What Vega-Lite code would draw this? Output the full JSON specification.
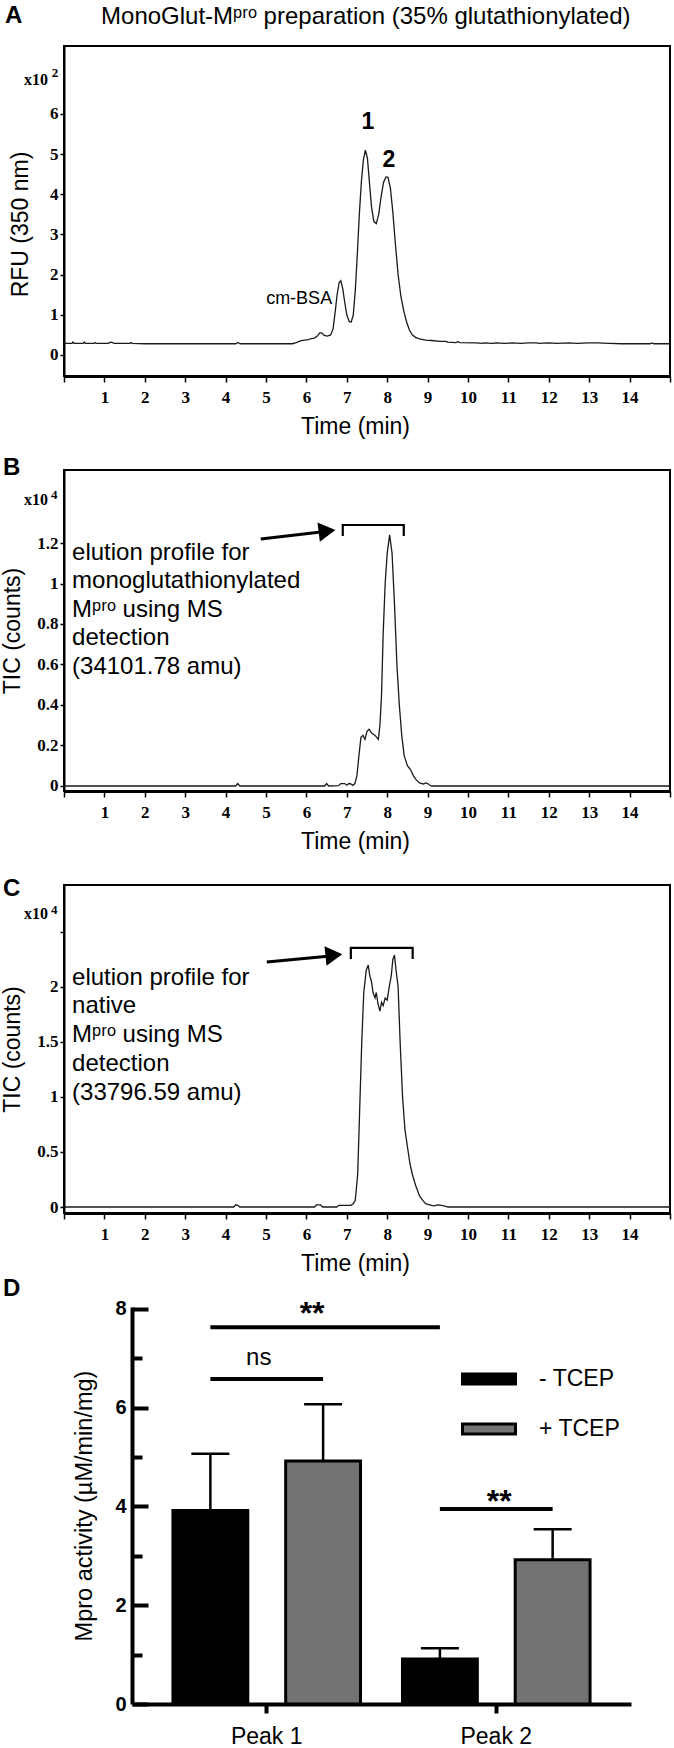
{
  "$schema": "https://vega.github.io/schema/vega-lite/v6.json",
  "background": "white",
  "padding": {"left": 0, "top": 2, "right": 0, "bottom": 0},
  "bounds": "flush",
  "spacing": 94,
  "resolve": {"legend": {"color": "independent"}},
  "config": {
    "font": "Liberation Sans",
    "view": {"stroke": "black", "strokeWidth": 2},
    "axis": {"labelFont": "Liberation Sans Narrow", "titleFont": "Liberation Sans", "labelColor": "black", "titleColor": "black", "domainColor": "black", "tickColor": "black", "titleFontWeight": "normal", "grid": false},
    "text": {"font": "Liberation Sans", "fill": "black"}
  },
  "vconcat": [
    {
      "width": 606, "height": 330,
      "layer": [
        {
          "data": {"values": [
            {"t":0,"v":0.29},{"t":0.2,"v":0.29},{"t":0.22,"v":0.32},{"t":0.25,"v":0.29},{"t":0.48,"v":0.29},{"t":0.5,"v":0.32},{"t":0.53,"v":0.29},{"t":0.75,"v":0.29},{"t":0.77,"v":0.31},{"t":0.8,"v":0.29},{"t":1.1,"v":0.29},{"t":1.15,"v":0.32},{"t":1.2,"v":0.31},{"t":1.24,"v":0.29},{"t":1.64,"v":0.29},{"t":1.66,"v":0.31},{"t":1.7,"v":0.29},{"t":2.0,"v":0.28},{"t":3.0,"v":0.28},{"t":4.0,"v":0.28},{"t":4.25,"v":0.28},{"t":4.3,"v":0.31},{"t":4.36,"v":0.28},{"t":5.0,"v":0.28},{"t":5.5,"v":0.28},{"t":5.65,"v":0.28},{"t":5.75,"v":0.31},{"t":5.85,"v":0.35},{"t":5.95,"v":0.37},{"t":6.05,"v":0.38},{"t":6.12,"v":0.41},{"t":6.2,"v":0.42},{"t":6.27,"v":0.47},{"t":6.33,"v":0.55},{"t":6.38,"v":0.55},{"t":6.44,"v":0.49},{"t":6.52,"v":0.47},{"t":6.6,"v":0.5},{"t":6.66,"v":0.65},{"t":6.71,"v":1.05},{"t":6.76,"v":1.5},{"t":6.81,"v":1.8},{"t":6.85,"v":1.85},{"t":6.9,"v":1.65},{"t":6.95,"v":1.3},{"t":7.0,"v":1.0},{"t":7.06,"v":0.83},{"t":7.11,"v":0.82},{"t":7.16,"v":1.0},{"t":7.21,"v":1.6},{"t":7.26,"v":2.5},{"t":7.31,"v":3.5},{"t":7.36,"v":4.3},{"t":7.41,"v":4.85},{"t":7.46,"v":5.1},{"t":7.51,"v":4.9},{"t":7.56,"v":4.3},{"t":7.61,"v":3.7},{"t":7.67,"v":3.32},{"t":7.73,"v":3.27},{"t":7.79,"v":3.5},{"t":7.85,"v":3.95},{"t":7.91,"v":4.3},{"t":7.97,"v":4.43},{"t":8.02,"v":4.42},{"t":8.08,"v":4.15},{"t":8.14,"v":3.55},{"t":8.2,"v":2.8},{"t":8.27,"v":2.0},{"t":8.34,"v":1.45},{"t":8.41,"v":1.1},{"t":8.48,"v":0.82},{"t":8.55,"v":0.62},{"t":8.62,"v":0.5},{"t":8.7,"v":0.44},{"t":8.8,"v":0.4},{"t":8.95,"v":0.37},{"t":9.1,"v":0.36},{"t":9.3,"v":0.34},{"t":9.45,"v":0.34},{"t":9.5,"v":0.32},{"t":9.7,"v":0.31},{"t":9.75,"v":0.33},{"t":9.8,"v":0.31},{"t":10.2,"v":0.3},{"t":10.35,"v":0.29},{"t":10.4,"v":0.3},{"t":10.6,"v":0.29},{"t":10.7,"v":0.3},{"t":10.9,"v":0.29},{"t":11.1,"v":0.3},{"t":11.3,"v":0.29},{"t":11.5,"v":0.3},{"t":11.7,"v":0.3},{"t":11.75,"v":0.29},{"t":12.0,"v":0.3},{"t":12.2,"v":0.29},{"t":12.5,"v":0.3},{"t":12.7,"v":0.29},{"t":13.0,"v":0.3},{"t":13.2,"v":0.3},{"t":13.5,"v":0.29},{"t":13.8,"v":0.28},{"t":14.2,"v":0.28},{"t":14.5,"v":0.28},{"t":14.55,"v":0.3},{"t":14.6,"v":0.28},{"t":15,"v":0.28}
          ]},
          "mark": {"type": "line", "color": "#1a1a1a", "strokeWidth": 1.3},
          "encoding": {
            "x": {"field": "t", "type": "quantitative", "scale": {"domain": [0, 15], "nice": false, "zero": false},
              "axis": {"title": "Time (min)", "values": [0,1,2,3,4,5,6,7,8,9,10,11,12,13,14,15], "labelExpr": "datum.value == 0 || datum.value == 15 ? '' : datum.label", "tickSize": 6, "tickWidth": 1.5, "domainWidth": 3, "labelFontWeight": "bold", "labelFontSize": 17, "labelPadding": 7, "labelFlush": false, "labelOverlap": false, "titleFontSize": 23, "titlePadding": 10, "titleX": 291}},
            "y": {"field": "v", "type": "quantitative", "scale": {"domain": [-0.523, 7.69], "nice": false, "zero": false},
              "axis": {"title": "RFU (350 nm)", "values": [0,1,2,3,4,5,6], "tickSize": 4, "tickWidth": 1.5, "domainWidth": 2, "labelFontWeight": "bold", "labelFontSize": 17, "labelPadding": 2, "titleFontSize": 23, "titlePadding": 17, "titleY": 178}}
          }
        },
        {"data": {"values": [{}]}, "mark": {"type": "text", "text": "1", "fontSize": 23, "fontWeight": "bold", "baseline": "middle"}, "encoding": {"x": {"datum": 7.52}, "y": {"datum": 5.8}}},
        {"data": {"values": [{}]}, "mark": {"type": "text", "text": "2", "fontSize": 23, "fontWeight": "bold", "baseline": "middle"}, "encoding": {"x": {"datum": 8.04}, "y": {"datum": 4.85}}},
        {"data": {"values": [{}]}, "mark": {"type": "text", "text": "cm-BSA", "fontSize": 18, "baseline": "middle"}, "encoding": {"x": {"datum": 5.82}, "y": {"datum": 1.39}}},
        {"data": {"values": [{}]}, "mark": {"type": "text", "text": "x10", "font": "Liberation Sans Narrow", "fontWeight": "bold", "fontSize": 16, "baseline": "middle"}, "encoding": {"x": {"datum": -0.69}, "y": {"datum": 6.846}}},
        {"data": {"values": [{}]}, "mark": {"type": "text", "text": "2", "font": "Liberation Sans Narrow", "fontWeight": "bold", "fontSize": 13, "baseline": "middle"}, "encoding": {"x": {"datum": -0.22}, "y": {"datum": 7.02}}},
        {"data": {"values": [{}]}, "mark": {"type": "text", "text": "A", "fontSize": 24, "fontWeight": "bold", "align": "left", "baseline": "middle"}, "encoding": {"x": {"datum": -1.46}, "y": {"datum": 8.44}}},
        {"data": {"values": [{}]}, "mark": {"type": "text", "text": "MonoGlut-Mᵖʳᵒ  preparation (35% glutathionylated)", "fontSize": 24, "baseline": "middle"}, "encoding": {"x": {"datum": 7.47}, "y": {"datum": 8.41}}}
      ]
    },
    {
      "width": 606, "height": 321,
      "layer": [
        {
          "data": {"values": [
            {"t":0,"v":0},{"t":4.25,"v":0},{"t":4.3,"v":0.012},{"t":4.35,"v":0},{"t":6.45,"v":0},{"t":6.5,"v":0.012},{"t":6.55,"v":0},{"t":6.8,"v":0.002},{"t":6.85,"v":0.012},{"t":6.95,"v":0.012},{"t":7.0,"v":0.004},{"t":7.05,"v":0.012},{"t":7.1,"v":0.01},{"t":7.15,"v":0.003},{"t":7.2,"v":0.012},{"t":7.25,"v":0.05},{"t":7.3,"v":0.15},{"t":7.35,"v":0.24},{"t":7.4,"v":0.25},{"t":7.45,"v":0.23},{"t":7.5,"v":0.27},{"t":7.55,"v":0.28},{"t":7.62,"v":0.26},{"t":7.7,"v":0.25},{"t":7.78,"v":0.23},{"t":7.82,"v":0.3},{"t":7.86,"v":0.45},{"t":7.9,"v":0.75},{"t":7.95,"v":1.0},{"t":8.0,"v":1.15},{"t":8.06,"v":1.24},{"t":8.12,"v":1.15},{"t":8.18,"v":0.9},{"t":8.24,"v":0.6},{"t":8.3,"v":0.4},{"t":8.36,"v":0.25},{"t":8.42,"v":0.15},{"t":8.5,"v":0.1},{"t":8.58,"v":0.08},{"t":8.65,"v":0.05},{"t":8.72,"v":0.03},{"t":8.8,"v":0.015},{"t":8.9,"v":0.01},{"t":8.95,"v":0.015},{"t":9.0,"v":0.012},{"t":9.05,"v":0.005},{"t":9.1,"v":0},{"t":15,"v":0}
          ]},
          "mark": {"type": "line", "color": "#1a1a1a", "strokeWidth": 1.3},
          "encoding": {
            "x": {"field": "t", "type": "quantitative", "scale": {"domain": [0, 15], "nice": false, "zero": false},
              "axis": {"title": "Time (min)", "values": [0,1,2,3,4,5,6,7,8,9,10,11,12,13,14,15], "labelExpr": "datum.value == 0 || datum.value == 15 ? '' : datum.label", "tickSize": 6, "tickWidth": 1.5, "domainWidth": 3, "labelFontWeight": "bold", "labelFontSize": 17, "labelPadding": 7, "labelFlush": false, "labelOverlap": false, "titleFontSize": 23, "titlePadding": 10, "titleX": 291}},
            "y": {"field": "v", "type": "quantitative", "scale": {"domain": [-0.0247, 1.5605], "nice": false, "zero": false},
              "axis": {"title": "TIC (counts)", "values": [0,0.2,0.4,0.6,0.8,1,1.2], "format": "~g", "tickSize": 4, "tickWidth": 1.5, "domainWidth": 2, "labelFontWeight": "bold", "labelFontSize": 17, "labelPadding": 2, "titleFontSize": 23, "titlePadding": 12}}
          }
        },
        {
          "data": {"values": [{"t":6.9,"v":1.235},{"t":6.9,"v":1.289},{"t":8.41,"v":1.289},{"t":8.41,"v":1.235}]},
          "mark": {"type": "line", "color": "black", "strokeWidth": 2.2},
          "encoding": {"x": {"field": "t", "type": "quantitative"}, "y": {"field": "v", "type": "quantitative"}, "order": {"value": 0}}
        },
        {
          "data": {"values": [{"t":4.87,"v":1.22},{"t":6.36,"v":1.254}]},
          "mark": {"type": "line", "color": "black", "strokeWidth": 3},
          "encoding": {"x": {"field": "t", "type": "quantitative"}, "y": {"field": "v", "type": "quantitative"}}
        },
        {"data": {"values": [{}]}, "mark": {"type": "point", "shape": "triangle-right", "filled": true, "size": 380, "color": "black", "opacity": 1, "angle": -7}, "encoding": {"x": {"datum": 6.51}, "y": {"datum": 1.259}}},
        {"data": {"values": [{}]}, "mark": {"type": "text", "text": ["elution profile for", "monoglutathionylated", "Mᵖʳᵒ using MS", "detection", "(34101.78 amu)"], "align": "left", "baseline": "alphabetic", "fontSize": 24, "lineHeight": 28.5}, "encoding": {"x": {"datum": 0.2}, "y": {"datum": 1.118}}},
        {"data": {"values": [{}]}, "mark": {"type": "text", "text": "x10", "font": "Liberation Sans Narrow", "fontWeight": "bold", "fontSize": 16, "baseline": "middle"}, "encoding": {"x": {"datum": -0.69}, "y": {"datum": 1.41}}},
        {"data": {"values": [{}]}, "mark": {"type": "text", "text": "4", "font": "Liberation Sans Narrow", "fontWeight": "bold", "fontSize": 13, "baseline": "middle"}, "encoding": {"x": {"datum": -0.24}, "y": {"datum": 1.437}}},
        {"data": {"values": [{}]}, "mark": {"type": "text", "text": "B", "fontSize": 24, "fontWeight": "bold", "align": "left", "baseline": "middle"}, "encoding": {"x": {"datum": -1.51}, "y": {"datum": 1.57}}}
      ]
    },
    {
      "width": 606, "height": 328,
      "layer": [
        {
          "data": {"values": [
            {"t":0,"v":0},{"t":4.2,"v":0},{"t":4.25,"v":0.02},{"t":4.3,"v":0.015},{"t":4.35,"v":0},{"t":6.2,"v":0},{"t":6.25,"v":0.02},{"t":6.35,"v":0.02},{"t":6.4,"v":0},{"t":6.75,"v":0},{"t":6.8,"v":0.015},{"t":7.1,"v":0.015},{"t":7.16,"v":0.03},{"t":7.21,"v":0.06},{"t":7.27,"v":0.3},{"t":7.32,"v":0.9},{"t":7.37,"v":1.5},{"t":7.42,"v":1.95},{"t":7.48,"v":2.15},{"t":7.53,"v":2.2},{"t":7.57,"v":2.1},{"t":7.61,"v":2.05},{"t":7.65,"v":1.95},{"t":7.7,"v":1.9},{"t":7.73,"v":1.95},{"t":7.77,"v":1.85},{"t":7.82,"v":1.78},{"t":7.86,"v":1.86},{"t":7.9,"v":1.83},{"t":7.95,"v":1.9},{"t":8.0,"v":1.88},{"t":8.05,"v":2.0},{"t":8.1,"v":2.1},{"t":8.14,"v":2.25},{"t":8.18,"v":2.29},{"t":8.22,"v":2.15},{"t":8.27,"v":2.0},{"t":8.32,"v":1.5},{"t":8.38,"v":1.0},{"t":8.44,"v":0.7},{"t":8.5,"v":0.55},{"t":8.56,"v":0.4},{"t":8.62,"v":0.3},{"t":8.7,"v":0.2},{"t":8.8,"v":0.1},{"t":8.88,"v":0.06},{"t":8.95,"v":0.03},{"t":9.05,"v":0.02},{"t":9.15,"v":0.01},{"t":9.25,"v":0.02},{"t":9.35,"v":0.015},{"t":9.45,"v":0.005},{"t":9.5,"v":0},{"t":15,"v":0}
          ]},
          "mark": {"type": "line", "color": "#1a1a1a", "strokeWidth": 1.3},
          "encoding": {
            "x": {"field": "t", "type": "quantitative", "scale": {"domain": [0, 15], "nice": false, "zero": false},
              "axis": {"title": "Time (min)", "values": [0,1,2,3,4,5,6,7,8,9,10,11,12,13,14,15], "labelExpr": "datum.value == 0 || datum.value == 15 ? '' : datum.label", "tickSize": 6, "tickWidth": 1.5, "domainWidth": 3, "labelFontWeight": "bold", "labelFontSize": 17, "labelPadding": 7, "labelFlush": false, "labelOverlap": false, "titleFontSize": 23, "titlePadding": 10, "titleX": 291}},
            "y": {"field": "v", "type": "quantitative", "scale": {"domain": [-0.0545, 2.927], "nice": false, "zero": false},
              "axis": {"title": "TIC (counts)", "values": [0,0.5,1,1.5,2,2.5], "format": "~g", "labelExpr": "datum.value == 2.5 ? '' : datum.label", "tickSize": 4, "tickWidth": 1.5, "domainWidth": 2, "labelFontWeight": "bold", "labelFontSize": 17, "labelPadding": 2, "titleFontSize": 23, "titlePadding": 12}}
          }
        },
        {
          "data": {"values": [{"t":7.1,"v":2.255},{"t":7.1,"v":2.355},{"t":8.63,"v":2.355},{"t":8.63,"v":2.255}]},
          "mark": {"type": "line", "color": "black", "strokeWidth": 2.2},
          "encoding": {"x": {"field": "t", "type": "quantitative"}, "y": {"field": "v", "type": "quantitative"}, "order": {"value": 0}}
        },
        {
          "data": {"values": [{"t":5.02,"v":2.227},{"t":6.53,"v":2.28}]},
          "mark": {"type": "line", "color": "black", "strokeWidth": 3},
          "encoding": {"x": {"field": "t", "type": "quantitative"}, "y": {"field": "v", "type": "quantitative"}}
        },
        {"data": {"values": [{}]}, "mark": {"type": "point", "shape": "triangle-right", "filled": true, "size": 380, "color": "black", "opacity": 1, "angle": -6}, "encoding": {"x": {"datum": 6.68}, "y": {"datum": 2.29}}},
        {"data": {"values": [{}]}, "mark": {"type": "text", "text": ["elution profile for", "native", "Mᵖʳᵒ using MS", "detection", "(33796.59 amu)"], "align": "left", "baseline": "alphabetic", "fontSize": 24, "lineHeight": 28.7}, "encoding": {"x": {"datum": 0.2}, "y": {"datum": 2.02}}},
        {"data": {"values": [{}]}, "mark": {"type": "text", "text": "x10", "font": "Liberation Sans Narrow", "fontWeight": "bold", "fontSize": 16, "baseline": "middle"}, "encoding": {"x": {"datum": -0.69}, "y": {"datum": 2.664}}},
        {"data": {"values": [{}]}, "mark": {"type": "text", "text": "4", "font": "Liberation Sans Narrow", "fontWeight": "bold", "fontSize": 13, "baseline": "middle"}, "encoding": {"x": {"datum": -0.24}, "y": {"datum": 2.7}}},
        {"data": {"values": [{}]}, "mark": {"type": "text", "text": "C", "fontSize": 24, "fontWeight": "bold", "align": "left", "baseline": "middle"}, "encoding": {"x": {"datum": -1.51}, "y": {"datum": 2.891}}}
      ]
    },
    {
      "width": 606, "height": 397,
      "view": {"stroke": null},
      "title": {"text": "D", "anchor": "start", "frame": "group", "dx": -61, "fontSize": 24, "fontWeight": "bold", "font": "Liberation Sans", "color": "black", "offset": -3},
      "layer": [
        {
          "data": {"values": [
            {"peak": "Peak 1", "cond": "- TCEP", "mean": 3.92, "err": 5.07},
            {"peak": "Peak 1", "cond": "+ TCEP", "mean": 4.92, "err": 6.07},
            {"peak": "Peak 2", "cond": "- TCEP", "mean": 0.91, "err": 1.13},
            {"peak": "Peak 2", "cond": "+ TCEP", "mean": 2.92, "err": 3.54}
          ]},
          "layer": [
            {
              "mark": {"type": "bar", "stroke": "black", "strokeWidth": 3},
              "encoding": {
                "x": {"field": "peak", "type": "nominal", "sort": ["Peak 1", "Peak 2"], "scale": {"range": [68, 567], "paddingInner": 0, "paddingOuter": 0.087},
                  "axis": {"title": null, "labelAngle": 0, "labelFont": "Liberation Sans", "labelFontSize": 23, "labelPadding": 12, "domainWidth": 4, "tickSize": 9, "tickWidth": 4}},
                "xOffset": {"field": "cond", "type": "nominal", "sort": ["- TCEP", "+ TCEP"], "scale": {"paddingInner": 0.336, "paddingOuter": 0.186}},
                "y": {"field": "mean", "type": "quantitative", "scale": {"domain": [0, 8.04], "nice": false},
                  "axis": {"title": "Mpro activity (µM/min/mg)", "offset": -68, "values": [0,1,2,3,4,5,6,7,8], "labelExpr": "datum.value % 2 == 0 ? datum.label : ''", "tickSize": {"condition": {"test": "datum.value % 2 == 1", "value": -10}, "value": -16}, "tickWidth": 4, "domainWidth": 4, "labelFont": "Liberation Sans", "labelFontWeight": "bold", "labelFontSize": 20, "labelPadding": 22, "titleFontSize": 23.5, "titlePadding": 18}},
                "color": {"field": "cond", "type": "nominal", "sort": ["- TCEP", "+ TCEP"], "scale": {"domain": ["- TCEP", "+ TCEP"], "range": ["#000000", "#737373"]},
                  "legend": {"orient": "none", "legendX": 397, "legendY": 44, "title": null, "symbolType": "M-1,-0.19H1V0.19H-1Z", "symbolSize": 2809, "symbolStrokeColor": "black", "symbolStrokeWidth": 3, "symbolOpacity": 1, "labelFont": "Liberation Sans", "labelFontSize": 23, "labelColor": "black", "labelOffset": 22, "rowPadding": 10, "labelLimit": 200}}
              }
            },
            {
              "mark": {"type": "rule", "color": "black", "strokeWidth": 2.5},
              "encoding": {
                "x": {"field": "peak", "type": "nominal", "sort": ["Peak 1", "Peak 2"]},
                "xOffset": {"field": "cond", "type": "nominal", "sort": ["- TCEP", "+ TCEP"]},
                "y": {"field": "mean", "type": "quantitative"},
                "y2": {"field": "err"}
              }
            },
            {
              "mark": {"type": "tick", "color": "black", "thickness": 2.5, "size": 38, "orient": "horizontal", "opacity": 1},
              "encoding": {
                "x": {"field": "peak", "type": "nominal", "sort": ["Peak 1", "Peak 2"]},
                "xOffset": {"field": "cond", "type": "nominal", "sort": ["- TCEP", "+ TCEP"]},
                "y": {"field": "err", "type": "quantitative"}
              }
            }
          ]
        },
        {
          "data": {"values": [
            {"peak": "Peak 1", "cond": "- TCEP", "y": 7.63, "g": "a"},
            {"peak": "Peak 2", "cond": "- TCEP", "y": 7.63, "g": "a"},
            {"peak": "Peak 1", "cond": "- TCEP", "y": 6.58, "g": "b"},
            {"peak": "Peak 1", "cond": "+ TCEP", "y": 6.58, "g": "b"},
            {"peak": "Peak 2", "cond": "- TCEP", "y": 3.95, "g": "c"},
            {"peak": "Peak 2", "cond": "+ TCEP", "y": 3.95, "g": "c"}
          ]},
          "mark": {"type": "line", "color": "black", "strokeWidth": 4},
          "encoding": {
            "x": {"field": "peak", "type": "nominal", "sort": ["Peak 1", "Peak 2"]},
            "xOffset": {"field": "cond", "type": "nominal", "sort": ["- TCEP", "+ TCEP"]},
            "y": {"field": "y", "type": "quantitative"},
            "detail": {"field": "g", "type": "nominal"}
          }
        },
        {"data": {"values": [{}]}, "mark": {"type": "text", "text": "**", "fontSize": 32, "fontWeight": "bold", "baseline": "alphabetic", "dx": -11}, "encoding": {"x": {"datum": "Peak 1"}, "xOffset": {"datum": "+ TCEP"}, "y": {"datum": 7.7}}},
        {"data": {"values": [{}]}, "mark": {"type": "text", "text": "ns", "fontSize": 24, "baseline": "alphabetic", "dx": -8}, "encoding": {"x": {"datum": "Peak 1"}, "y": {"datum": 6.87}}},
        {"data": {"values": [{}]}, "mark": {"type": "text", "text": "**", "fontSize": 32, "fontWeight": "bold", "baseline": "alphabetic", "dx": 3}, "encoding": {"x": {"datum": "Peak 2"}, "y": {"datum": 3.89}}}
      ]
    }
  ]
}
